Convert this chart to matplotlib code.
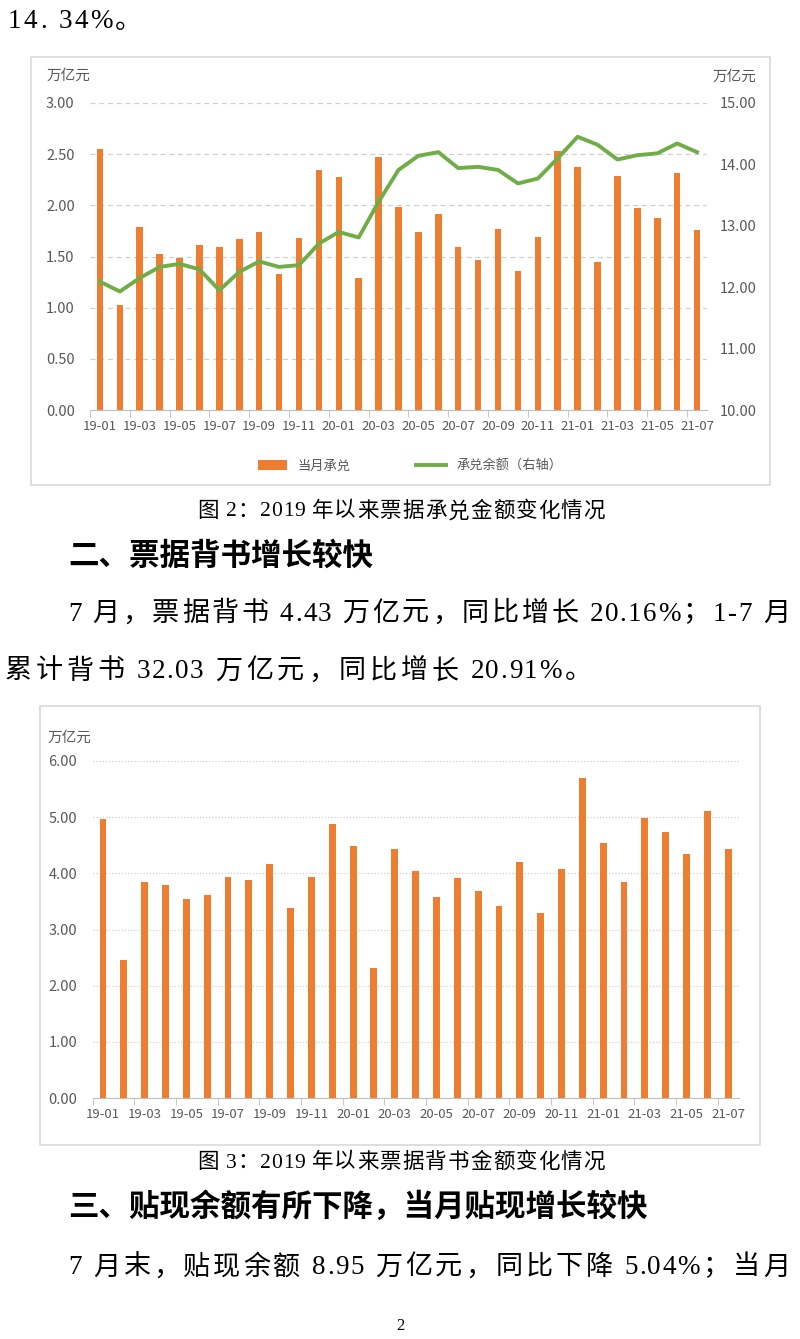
import matplotlib.pyplot as plt
from matplotlib.patches import Rectangle
import numpy as np

plt.rcParams['font.family'] = ['Noto Sans CJK SC', 'DejaVu Sans']

months = ['19-01', '19-02', '19-03', '19-04', '19-05', '19-06', '19-07', '19-08',
          '19-09', '19-10', '19-11', '19-12', '20-01', '20-02', '20-03', '20-04',
          '20-05', '20-06', '20-07', '20-08', '20-09', '20-10', '20-11', '20-12',
          '21-01', '21-02', '21-03', '21-04', '21-05', '21-06', '21-07']

# figure 2: acceptance
accept_month = [2.55, 1.03, 1.79, 1.52, 1.49, 1.61, 1.59, 1.67, 1.74, 1.33, 1.68,
                2.35, 2.28, 1.29, 2.47, 1.98, 1.74, 1.92, 1.59, 1.47, 1.77, 1.36,
                1.69, 2.53, 2.37, 1.45, 2.29, 1.97, 1.88, 2.32, 1.76]
accept_balance = [12.09, 11.93, 12.15, 12.33, 12.38, 12.29, 11.95, 12.25, 12.42,
                  12.33, 12.36, 12.71, 12.90, 12.81, 13.39, 13.91, 14.14, 14.20,
                  13.94, 13.96, 13.91, 13.69, 13.77, 14.10, 14.45, 14.32, 14.08,
                  14.15, 14.18, 14.34, 14.20]

# figure 3: endorsement
endorse_month = [4.97, 2.45, 3.84, 3.79, 3.54, 3.62, 3.93, 3.89, 4.17, 3.39, 3.93,
                 4.88, 4.49, 2.31, 4.43, 4.04, 3.57, 3.92, 3.68, 3.41, 4.21, 3.29,
                 4.07, 5.69, 4.54, 3.84, 4.99, 4.73, 4.35, 5.11, 4.43]

ORANGE = '#ED7D31'
GREEN = '#70AD47'
GREY = '#595959'
W, H = 800, 1339

fig = plt.figure(figsize=(W / 100, H / 100), dpi=100)
renderer = fig.canvas.get_renderer()
serif = ['Liberation Serif', 'Noto Sans CJK SC']


def px_axes(x0, y0, x1, y1):
    # pixel box (top-left origin) -> figure axes
    return fig.add_axes([x0 / W, 1 - y1 / H, (x1 - x0) / W, (y1 - y0) / H])


def frame(x0, y0, x1, y1):
    fig.patches.append(Rectangle((x0 / W, 1 - y1 / H), (x1 - x0) / W, (y1 - y0) / H,
                                 transform=fig.transFigure, fill=False,
                                 edgecolor='#d9d9d9', linewidth=1.2))


def measure(s, **kw):
    t = fig.text(0, 0, s, **kw)
    w = t.get_window_extent(renderer).width
    t.remove()
    return w


def spaced(x0, y, s, gap=0.0, x1=None, agap=1.5, **kw):
    # char-by-char layout: 'gap' px next to CJK chars, 'agap' px between latin ones
    base = measure('||', **kw)
    widths = [measure('|' + ch + '|', **kw) - base for ch in s]
    wide = [ord(a) > 0x2000 or ord(b) > 0x2000 for a, b in zip(s[:-1], s[1:])]
    if x1 is not None:
        n_ascii = wide.count(False)
        gap = (x1 - x0 - sum(widths) - agap * n_ascii) / wide.count(True)
    pos = x0
    for i, (ch, w) in enumerate(zip(s, widths)):
        if ch != ' ':
            fig.text(pos / W, 1 - y / H, ch, va='center', ha='left', **kw)
        if i < len(wide):
            pos += w + (gap if wide[i] else agap)
    return gap


x = np.arange(len(months))


def style_axis(ax, ymax, step, ls):
    ax.set_xlim(-0.5, len(months) - 0.5)
    ax.set_ylim(0, ymax)
    ticks = np.arange(0, ymax + 0.001, step)
    ax.set_yticks(ticks)
    ax.set_yticklabels([f'{v:.2f}' for v in ticks])
    ax.set_xticks(x[::2])
    ax.set_xticklabels(months[::2])
    ax.set_xticks(np.arange(-0.5, len(months), 2), minor=True)
    ax.tick_params(axis='x', which='major', length=0, pad=7, labelsize=9.5, colors=GREY)
    ax.tick_params(axis='x', which='minor', length=5, color='#bfbfbf')
    ax.tick_params(axis='y', length=0, pad=11, labelsize=10.5, colors=GREY)
    for s in ['top', 'right', 'left']:
        ax.spines[s].set_visible(False)
    ax.spines['bottom'].set_color('#bfbfbf')
    ax.grid(axis='y', color='#d0d0d0', linestyle=ls, linewidth=0.9)
    ax.set_axisbelow(True)


body = dict(family=serif, fontsize=19.5)
cap = dict(family=serif, fontsize=15.5)

# top text
spaced(8, 22, '14. 34%。', agap=2.5, gap=2, **body)

# ---- chart 1 ----
frame(31, 57, 770, 485)
ax1 = px_axes(90, 103, 707, 410)
style_axis(ax1, 3.0, 0.5, (0, (4, 3)))
bars1 = ax1.bar(x, accept_month, width=0.33, color=ORANGE)
ax1b = ax1.twinx()
line1, = ax1b.plot(x, accept_balance, color=GREEN, linewidth=2.8)
ax1b.set_ylim(10, 15)
rticks = np.arange(10, 15.01, 1)
ax1b.set_yticks(rticks)
ax1b.set_yticklabels([f'{v:.2f}' for v in rticks])
ax1b.tick_params(axis='y', length=0, pad=9, labelsize=10.5, colors=GREY)
for s in ['top', 'right', 'left', 'bottom']:
    ax1b.spines[s].set_visible(False)
fig.text(47 / W, 1 - 76 / H, '万亿元', fontsize=10.5, color=GREY, va='center')
fig.text(713 / W, 1 - 77 / H, '万亿元', fontsize=10.5, color=GREY, va='center')
fig.legend([bars1, line1], ['当月承兑', '承兑余额（右轴）'], loc='center',
           bbox_to_anchor=(410 / W, 1 - 466 / H), ncol=2, frameon=False,
           fontsize=9.5, labelcolor=GREY, columnspacing=5, handlelength=2.2)

spaced(197, 512, '图 2：2019 年以来票据承兑金额变化情况', x1=605, agap=0.5, **cap)
fig.text(68 / W, 1 - 556 / H, '二、票据背书增长较快', fontsize=22, fontweight='bold',
         ha='left', va='center')
spaced(68, 614, '7 月，票据背书 4.43 万亿元，同比增长 20.16%；1-7 月', x1=790, **body)
spaced(5, 672, '累计背书 32.03 万亿元，同比增长 20.91%。', x1=592, **body)

# ---- chart 2 ----
frame(40, 706, 760, 1145)
ax2 = px_axes(92.6, 761, 738.6, 1098)
style_axis(ax2, 6.0, 1.0, (0, (1, 1.5)))
ax2.bar(x, endorse_month, width=0.33, color=ORANGE)
fig.text(48 / W, 1 - 738 / H, '万亿元', fontsize=10.5, color=GREY, va='center')

spaced(197, 1163, '图 3：2019 年以来票据背书金额变化情况', x1=605, agap=0.5, **cap)
fig.text(68 / W, 1 - 1207 / H, '三、贴现余额有所下降，当月贴现增长较快', fontsize=22,
         fontweight='bold', ha='left', va='center')
spaced(68, 1268, '7 月末，贴现余额 8.95 万亿元，同比下降 5.04%；当月', x1=790, **body)
fig.text(400 / W, 1 - 1326 / H, '2', family=serif, fontsize=12, ha='center', va='center')

fig.savefig('out.png', dpi=100)
